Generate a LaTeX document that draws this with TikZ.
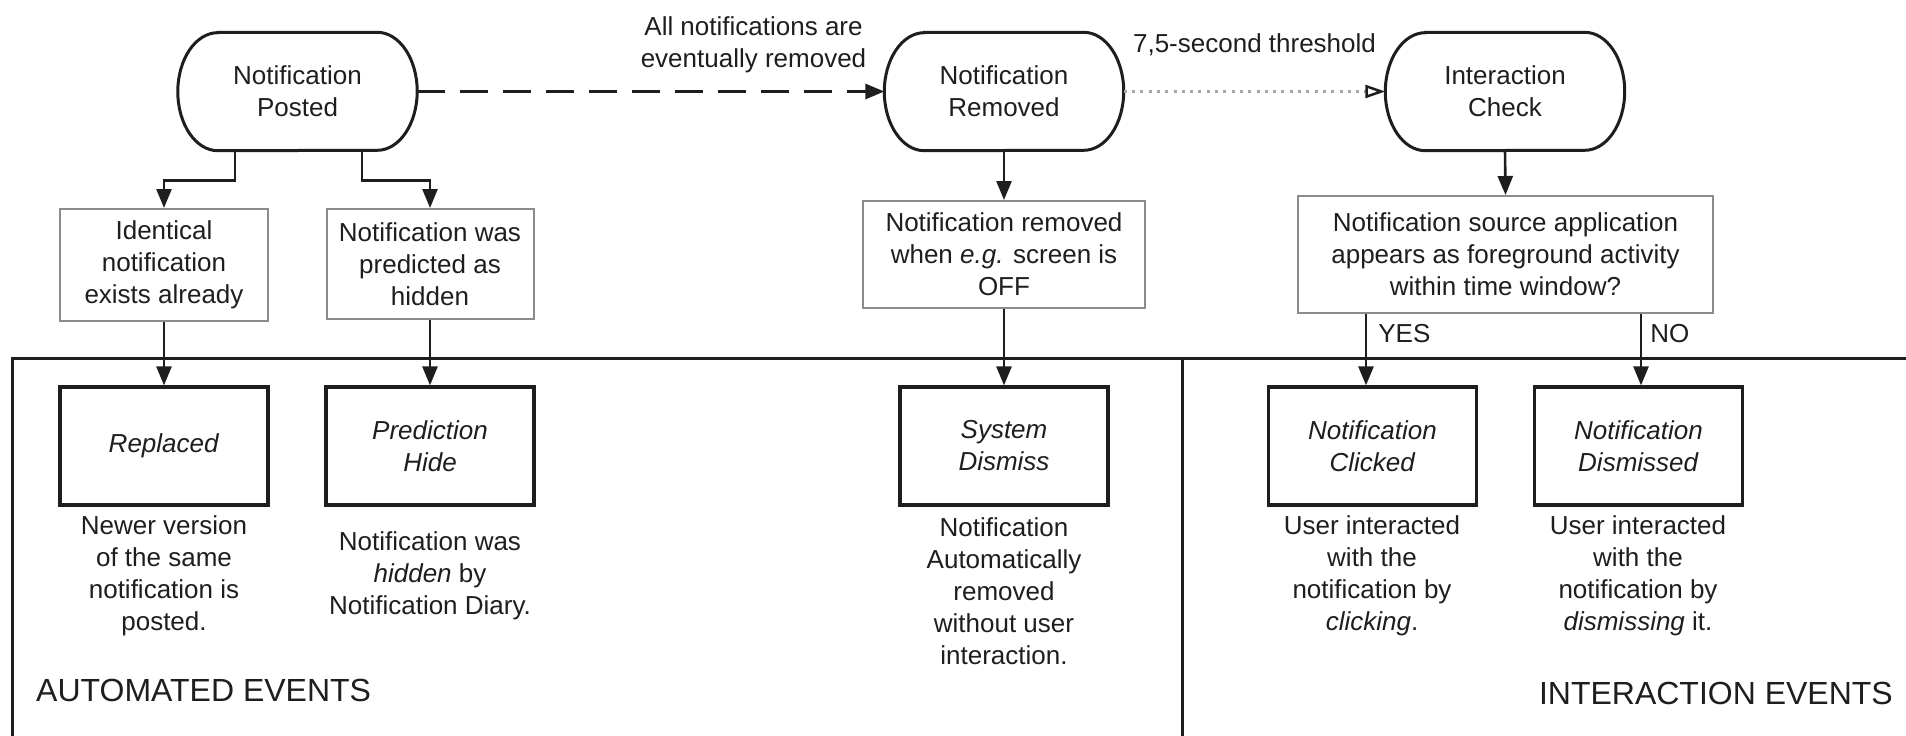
\documentclass[tikz,border=0pt]{standalone}
\usepackage{fontspec}
\setmainfont{Liberation Sans}
\usetikzlibrary{arrows.meta}
\definecolor{ink}{HTML}{1E1E1E}
\definecolor{soft}{HTML}{8C8C8C}
\definecolor{dotgray}{HTML}{A6A6A6}

\begin{document}
\begin{tikzpicture}[x=1pt,y=-1pt,
  every node/.style={font=\fontsize{26}{32}\selectfont, text=ink, align=center},
  stadium/.style={minimum width=239pt, minimum height=118pt, inner sep=0pt},
  stadline/.style={draw=ink, line width=3pt},
  cond/.style={draw=soft, fill=white, line width=2pt, inner sep=0pt},
  outcome/.style={draw=ink, fill=white, line width=3.2pt,
    minimum width=208pt, minimum height=118pt, inner sep=0pt},
  note/.style={inner sep=0pt},
  caption/.style={inner sep=0pt, font=\fontsize{32}{38}\selectfont},
  link/.style={draw=ink, line width=2.6pt, -{Triangle[length=19pt,width=15pt]}},
  eventual/.style={draw=ink, line width=3pt, dash pattern=on 28pt off 15pt,
    -{Triangle[length=19pt,width=15pt]}},
  timed/.style={draw=dotgray, line width=3pt, dash pattern=on 3pt off 5.3pt,
    -{Triangle[open, length=20pt, width=13pt, line width=2.5pt, color=ink]}},
  frame/.style={draw=ink, line width=3pt}
]
\useasboundingbox (0,0) rectangle (1906,736);

% swim-lane frame
\draw[frame] (12,745) -- (12,358) -- (1915,358);
\draw[frame] (1182,358) -- (1182,745);
\node[caption, anchor=west] (autolbl) at (36,690) {AUTOMATED EVENTS};
\node[caption, anchor=east] (interlbl) at (1893,693) {INTERACTION EVENTS};

% main states (outline with elliptic ends drawn below)
\node[stadium] (posted) at (297.5,91.5) {Notification\\Posted};
\node[stadium] (removed) at (1004,91.5) {Notification\\Removed};
\node[stadium] (check) at (1505,91.5) {Interaction\\Check};
\foreach \n in {posted,removed,check} {
  \draw[stadline] ([xshift=40pt]\n.north west) -- ([xshift=-40pt]\n.north east)
    arc[start angle=90, end angle=-90, x radius=40pt, y radius=59pt]
    -- ([xshift=40pt]\n.south west)
    arc[start angle=270, end angle=90, x radius=40pt, y radius=59pt] -- cycle;
}

% conditions
\node[cond, minimum width=208pt, minimum height=112pt] (ident) at (164,265)
  {Identical\\notification\\exists already};
\node[cond, minimum width=207pt, minimum height=110pt] (pred) at (430,264)
  {Notification was\\predicted as\\hidden};
\node[cond, minimum width=282pt, minimum height=107pt] (offbox) at (1004,254.5)
  {Notification removed\\when \textit{e.g.} screen is\\OFF};
\node[cond, minimum width=415pt, minimum height=117pt] (fg) at (1505.5,254.5)
  {Notification source application\\appears as foreground activity\\within time window?};

% resulting events
\node[outcome] (replaced) at (164,446) {\textit{Replaced}};
\node[outcome] (hide) at (430,446) {\textit{Prediction}\\\textit{Hide}};
\node[outcome] (sysdis) at (1004,446) {\textit{System}\\\textit{Dismiss}};
\node[outcome] (clicked) at (1372.5,446) {\textit{Notification}\\\textit{Clicked}};
\node[outcome] (dismissed) at (1638.5,446) {\textit{Notification}\\\textit{Dismissed}};

% event descriptions
\node[note] (d1) at (164,576) {Newer version\\of the same\\notification is\\posted.};
\node[note] (d2) at (430,576) {Notification was\\\textit{hidden} by\\Notification Diary.};
\node[note] (d3) at (1004,591) {Notification\\Automatically\\removed\\without user\\interaction.};
\node[note] (d4) at (1372,576) {User interacted\\with the\\notification by\\\textit{clicking}.};
\node[note] (d5) at (1638,576) {User interacted\\with the\\notification by\\\textit{dismissing} it.};

% connectors
\draw[link] ([xshift=-62.5pt]posted.south) -- ++(0,30) -| (ident.north);
\draw[link] ([xshift=64.5pt]posted.south) -- ++(0,30) -| (pred.north);
\draw[link] (ident.south) -- (replaced.north);
\draw[link] (pred.south) -- (hide.north);
\draw[link] (removed.south) -- (offbox.north);
\draw[link] (offbox.south) -- (sysdis.north);
\draw[link] (check.south) -- (fg.north);
\draw[link] ([xshift=-139.5pt]fg.south) --
  node[pos=0.27, anchor=west, xshift=11pt, inner sep=0pt] {YES}
  ([xshift=-139.5pt]fg.south |- clicked.north);
\draw[link] ([xshift=135.5pt]fg.south) --
  node[pos=0.27, anchor=west, xshift=8pt, inner sep=0pt] {NO}
  ([xshift=135.5pt]fg.south |- dismissed.north);

\draw[eventual] (posted.east) --
  node[pos=0.72, yshift=47pt, inner sep=0pt] {All notifications are\\eventually removed} (removed.west);
\draw[timed] (removed.east) --
  node[pos=0.5, yshift=47pt, inner sep=0pt] {7,5-second threshold} (check.west);
\end{tikzpicture}
\end{document}
